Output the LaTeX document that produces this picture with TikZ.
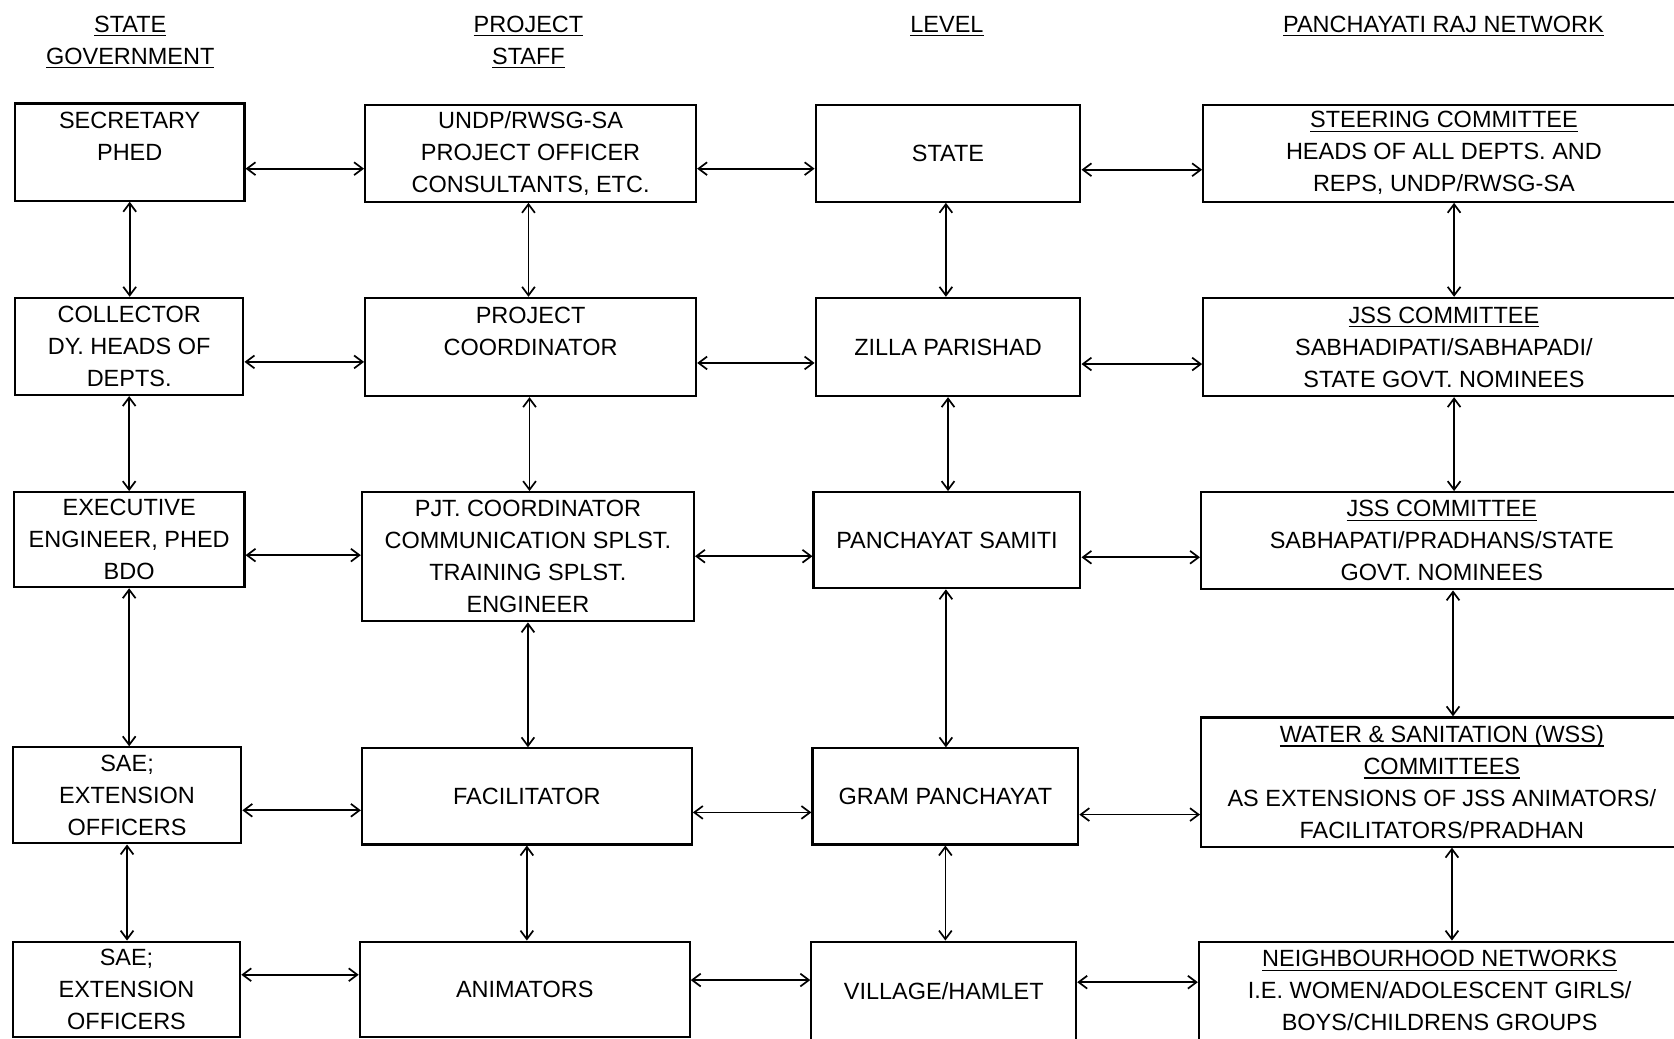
\documentclass[tikz,border=0pt]{standalone}
\usepackage{fontspec}
\setmainfont{Liberation Sans}
\usetikzlibrary{arrows.meta}
\newcommand\ulx[1]{\setbox0\hbox{#1}\rlap{\rule[-4pt]{\wd0}{1.4pt}}\box0}
\tikzset{
  box/.style={draw, line width=2pt, inner sep=0pt, align=center, font=\fontsize{22}{30}\selectfont},
  head/.style={inner sep=0pt, anchor=base, font=\fontsize{22}{30}\selectfont},
  arr/.style={line width=1.6pt, {Straight Barb[length=8pt,width=12pt]}-{Straight Barb[length=8pt,width=12pt]}},
}
\begin{document}
\begin{tikzpicture}[x=1pt,y=-1pt]
\useasboundingbox (0,0) rectangle (1568,973);
% headers
\node[head] (h1a) at (122,30) {\ulx{STATE}};
\node[head] (h1b) at (122,60) {\ulx{GOVERNMENT}};
\node[head] (h2a) at (495,30) {\ulx{PROJECT}};
\node[head] (h2b) at (495,60) {\ulx{STAFF}};
\node[head] (h3) at (887,30) {\ulx{LEVEL}};
\node[head] (h4) at (1352,30) {\ulx{PANCHAYATI RAJ NETWORK}};
% column 1
\node[box, minimum width=215pt, minimum height=91pt] (sec) at (121.5,142.5) {SECRETARY\\PHED\\~};
\node[box, minimum width=214pt, minimum height=91pt] (coll) at (121,324.5) {COLLECTOR\\DY. HEADS OF\\DEPTS.};
\node[box, minimum width=216pt, minimum height=89pt] (exec) at (121,505.5) {EXECUTIVE\\ENGINEER, PHED\\BDO};
\node[box, minimum width=214pt, minimum height=90pt] (saeA) at (119,745) {SAE;\\EXTENSION\\OFFICERS};
\node[box, minimum width=213pt, minimum height=89pt] (saeB) at (118.5,926.5) {SAE;\\EXTENSION\\OFFICERS};
% column 2
\node[box, minimum width=310pt, minimum height=91pt] (undp) at (497,143.5) {UNDP/RWSG-SA\\PROJECT OFFICER\\CONSULTANTS, ETC.};
\node[box, minimum width=310pt, minimum height=92pt] (pc) at (497,325) {PROJECT\\COORDINATOR\\~};
\node[box, minimum width=311pt, minimum height=121pt] (pjt) at (494.5,521.5) {PJT. COORDINATOR\\COMMUNICATION SPLST.\\TRAINING SPLST.\\ENGINEER};
\node[box, minimum width=309pt, minimum height=90pt] (fac) at (493.5,746) {FACILITATOR};
\node[box, minimum width=309pt, minimum height=89pt] (anim) at (491.5,926.5) {ANIMATORS};
% column 3
\node[box, minimum width=248pt, minimum height=91pt] (state) at (888,143.5) {STATE};
\node[box, minimum width=248pt, minimum height=92pt] (zilla) at (888,325) {ZILLA PARISHAD};
\node[box, minimum width=250pt, minimum height=90pt] (ps) at (887,506) {PANCHAYAT SAMITI};
\node[box, minimum width=249pt, minimum height=90pt] (gram) at (885.5,746) {GRAM PANCHAYAT};
\node[box, minimum width=248pt, minimum height=92pt] (vill) at (884,928) {VILLAGE/HAMLET};
% column 4
\node[box, minimum width=451pt, minimum height=91pt] (steer) at (1352.5,143.5) {\ulx{STEERING COMMITTEE}\\HEADS OF ALL DEPTS. AND\\REPS, UNDP/RWSG-SA};
\node[box, minimum width=451pt, minimum height=92pt] (jssA) at (1352.5,325) {\ulx{JSS COMMITTEE}\\SABHADIPATI/SABHAPADI/\\STATE GOVT. NOMINEES};
\node[box, minimum width=451pt, minimum height=91pt] (jssB) at (1350.5,506.5) {\ulx{JSS COMMITTEE}\\SABHAPATI/PRADHANS/STATE\\GOVT. NOMINEES};
\node[box, minimum width=451pt, minimum height=121pt] (wss) at (1350.5,732.5) {\ulx{WATER \& SANITATION (WSS)}\\\ulx{COMMITTEES}\\AS EXTENSIONS OF JSS ANIMATORS/\\FACILITATORS/PRADHAN};
\node[box, minimum width=451pt, minimum height=92pt] (nb) at (1348.5,928) {\ulx{NEIGHBOURHOOD NETWORKS}\\I.E. WOMEN/ADOLESCENT GIRLS/\\BOYS/CHILDRENS GROUPS};
% horizontal arrows
\draw[arr] ([yshift=-15.5pt]sec.east) -- ([yshift=-15.5pt]sec.east -| undp.west);
\draw[arr] ([yshift=-14.5pt]undp.east) -- ([yshift=-14.5pt]undp.east -| state.west);
\draw[arr] ([yshift=-15.5pt]state.east) -- ([yshift=-15.5pt]state.east -| steer.west);
\draw[arr] ([yshift=-14.5pt]coll.east) -- ([yshift=-14.5pt]coll.east -| pc.west);
\draw[arr] ([yshift=-15pt]pc.east) -- ([yshift=-15pt]pc.east -| zilla.west);
\draw[arr] ([yshift=-16pt]zilla.east) -- ([yshift=-16pt]zilla.east -| jssA.west);
\draw[arr] ([yshift=-14.5pt]exec.east) -- ([yshift=-14.5pt]exec.east -| pjt.west);
\draw[arr] ([yshift=0.5pt]pjt.east) -- ([yshift=0.5pt]pjt.east -| ps.west);
\draw[arr] ([yshift=-16pt]ps.east) -- ([yshift=-16pt]ps.east -| jssB.west);
\draw[arr] ([yshift=-14pt]saeA.east) -- ([yshift=-14pt]saeA.east -| fac.west);
\draw[arr] ([yshift=-15pt]fac.east) -- ([yshift=-15pt]fac.east -| gram.west);
\draw[arr] ([yshift=-17pt]gram.east) -- ([yshift=-17pt]gram.east -| wss.west);
\draw[arr] ([yshift=13.5pt]saeB.east) -- ([yshift=13.5pt]saeB.east -| anim.west);
\draw[arr] ([yshift=8.5pt]anim.east) -- ([yshift=8.5pt]anim.east -| vill.west);
\draw[arr] ([yshift=8pt]vill.east) -- ([yshift=8pt]vill.east -| nb.west);
% vertical arrows
\draw[arr] (sec.south) -- (sec.south |- coll.north);
\draw[arr] (coll.south) -- (coll.south |- exec.north);
\draw[arr] (exec.south) -- (exec.south |- saeA.north);
\draw[arr] (saeA.south) -- (saeA.south |- saeB.north);
\draw[arr] ([xshift=-2pt]undp.south) -- ([xshift=-2pt]undp.south |- pc.north);
\draw[arr] ([xshift=-1pt]pc.south) -- ([xshift=-1pt]pc.south |- pjt.north);
\draw[arr] (pjt.south) -- (pjt.south |- fac.north);
\draw[arr] (fac.south) -- (fac.south |- anim.north);
\draw[arr] ([xshift=-2pt]state.south) -- ([xshift=-2pt]state.south |- zilla.north);
\draw[arr] (zilla.south) -- (zilla.south |- ps.north);
\draw[arr] ([xshift=-1pt]ps.south) -- ([xshift=-1pt]ps.south |- gram.north);
\draw[arr] (gram.south) -- (gram.south |- vill.north);
\draw[arr] ([xshift=9.5pt]steer.south) -- ([xshift=9.5pt]steer.south |- jssA.north);
\draw[arr] ([xshift=9.5pt]jssA.south) -- ([xshift=9.5pt]jssA.south |- jssB.north);
\draw[arr] ([xshift=10.5pt]jssB.south) -- ([xshift=10.5pt]jssB.south |- wss.north);
\draw[arr] ([xshift=9.5pt]wss.south) -- ([xshift=9.5pt]wss.south |- nb.north);
\end{tikzpicture}
\end{document}
